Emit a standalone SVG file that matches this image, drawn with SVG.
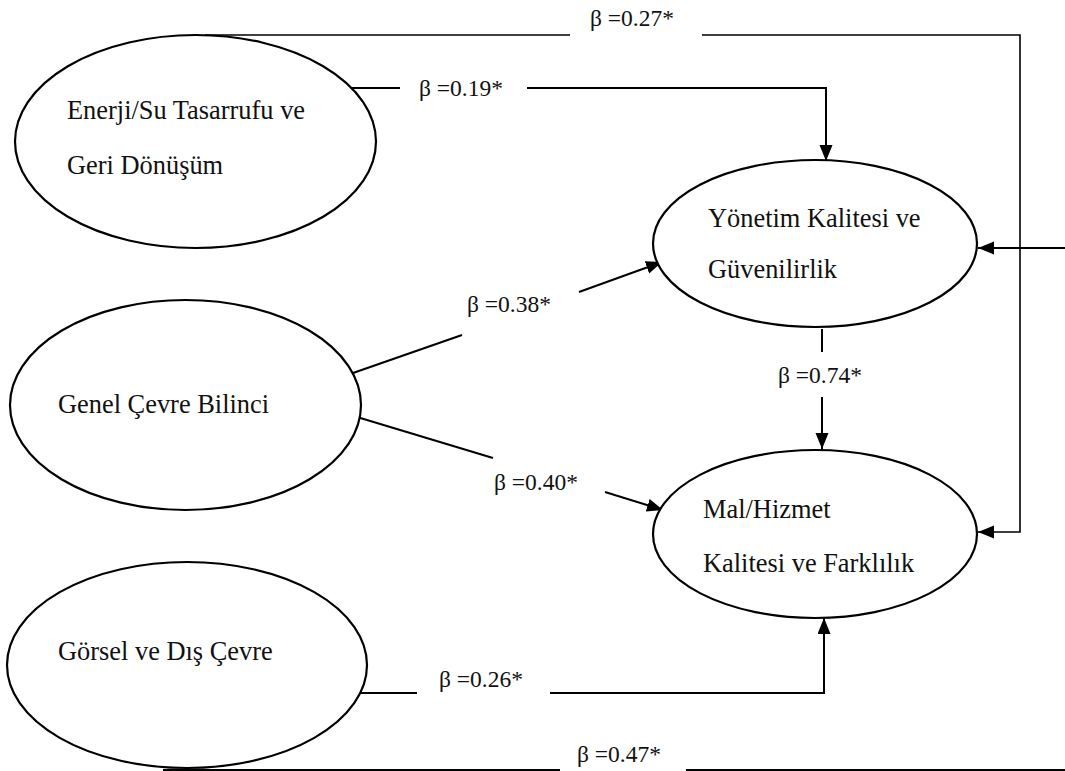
<svg xmlns="http://www.w3.org/2000/svg" width="1065" height="771" viewBox="0 0 1065 771">
  <style>
    .node { fill: #fff; stroke: #000; stroke-width: 2.2; }
    .ntext { font-family: "Liberation Serif", "Times New Roman", serif; font-size: 26.4px; fill: #111; }
    .beta { font-family: "Liberation Serif", "Times New Roman", serif; font-size: 23.5px; fill: #111; }
    .conn { fill: none; stroke: #000; stroke-width: 2; }
    .thin { fill: none; stroke: #000; stroke-width: 1.6; }
  </style>
  <defs>
    <marker id="arrow" markerUnits="userSpaceOnUse" markerWidth="17" markerHeight="14" refX="16" refY="6.5" orient="auto">
      <path d="M0,0 L16,6.5 L0,13 z" fill="#000"/>
    </marker>
  </defs>
  <rect width="1065" height="771" fill="#fff"/>

  <!-- connectors -->
  <g id="connectors">
    <!-- Enerji -> Mal/Hizmet (0.27), routed over the top and down the right side -->
    <polyline class="thin" points="205,35 570,35"/>
    <polyline class="thin" points="702,35 1020,35 1020,532 978,532" marker-end="url(#arrow)"/>
    <!-- Enerji -> Yönetim (0.19) -->
    <polyline class="conn" points="352,88 400,88"/>
    <polyline class="conn" points="527,88 826,88 826,161" marker-end="url(#arrow)"/>
    <!-- incoming from the right edge -> Yönetim -->
    <polyline class="conn" points="1065,248 978,248" marker-end="url(#arrow)"/>
    <!-- Genel -> Yönetim (0.38) -->
    <line class="conn" x1="353" y1="373" x2="462" y2="335"/>
    <line class="conn" x1="579" y1="292" x2="662" y2="262" marker-end="url(#arrow)"/>
    <!-- Genel -> Mal/Hizmet (0.40) -->
    <line class="conn" x1="357" y1="417" x2="493" y2="458"/>
    <line class="conn" x1="605" y1="492" x2="663" y2="510" marker-end="url(#arrow)"/>
    <!-- Yönetim -> Mal/Hizmet (0.74) -->
    <line class="conn" x1="822" y1="329" x2="822" y2="352"/>
    <line class="conn" x1="822" y1="397" x2="822" y2="449" marker-end="url(#arrow)"/>
    <!-- Görsel -> Mal/Hizmet (0.26) -->
    <polyline class="conn" points="351,693 417,693"/>
    <polyline class="conn" points="550,693 824,693 824,618" marker-end="url(#arrow)"/>
    <!-- Görsel (0.47), along the bottom edge -->
    <polyline class="conn" points="163,770 560,770"/>
    <polyline class="conn" points="686,770 1065,770"/>

    <text class="beta" x="590" y="26">β =0.27*</text>
    <text class="beta" x="419" y="96">β =0.19*</text>
    <text class="beta" x="467" y="312">β =0.38*</text>
    <text class="beta" x="778" y="383">β =0.74*</text>
    <text class="beta" x="494" y="490">β =0.40*</text>
    <text class="beta" x="439" y="687">β =0.26*</text>
    <text class="beta" x="577" y="762">β =0.47*</text>
  </g>

  <!-- nodes -->
  <g id="node-enerji">
    <ellipse class="node" cx="195.5" cy="141.5" rx="180.5" ry="106.5"/>
    <text class="ntext" x="67" y="119">Enerji/Su Tasarrufu ve</text>
    <text class="ntext" x="67" y="174">Geri Dönüşüm</text>
  </g>
  <g id="node-yonetim">
    <ellipse class="node" cx="815" cy="243.5" rx="162" ry="83.5"/>
    <text class="ntext" x="708" y="227">Yönetim Kalitesi ve</text>
    <text class="ntext" x="708" y="278">Güvenilirlik</text>
  </g>
  <g id="node-genel">
    <ellipse class="node" cx="185.5" cy="405" rx="175.5" ry="105"/>
    <text class="ntext" x="58" y="413">Genel Çevre Bilinci</text>
  </g>
  <g id="node-mal">
    <ellipse class="node" cx="815" cy="534" rx="162" ry="84"/>
    <text class="ntext" x="703" y="518">Mal/Hizmet</text>
    <text class="ntext" x="703" y="572">Kalitesi ve Farklılık</text>
  </g>
  <g id="node-gorsel">
    <ellipse class="node" cx="187" cy="665" rx="180" ry="103"/>
    <text class="ntext" x="58" y="660">Görsel ve Dış Çevre</text>
  </g>
</svg>
